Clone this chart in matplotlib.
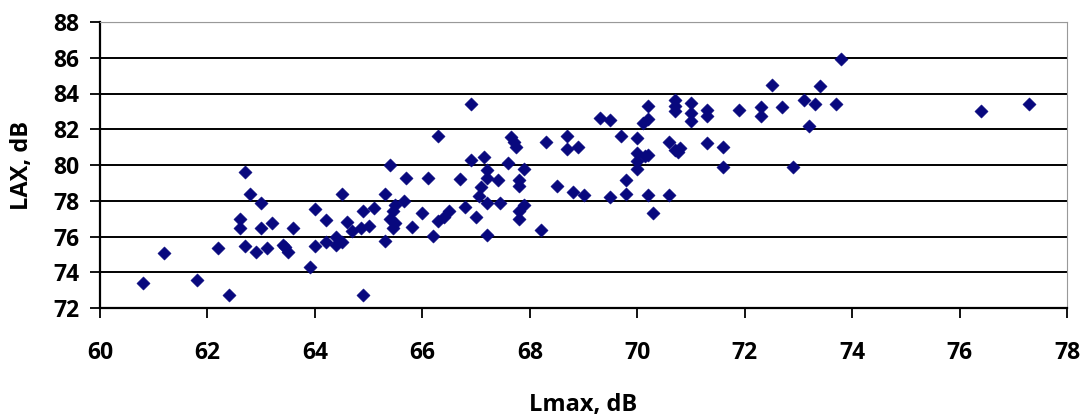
import matplotlib
matplotlib.use("Agg")
import matplotlib.pyplot as plt

lmax = [60.8, 61.2, 61.8, 62.2, 62.4, 62.6, 62.6, 62.7, 62.7, 62.8, 62.9, 63.0, 63.0, 63.1, 63.2,
        63.4, 63.45, 63.5, 63.6, 63.9, 64.0, 64.0, 64.2, 64.2, 64.4, 64.4, 64.5, 64.5, 64.6, 64.7,
        64.85, 64.9, 64.9, 65.0, 65.1, 65.3, 65.3, 65.4, 65.45, 65.4, 65.5, 65.5, 65.45, 65.65, 65.7,
        65.8, 66.0, 66.1, 66.2, 66.3, 66.3, 66.4, 66.5, 66.7, 66.8, 66.9, 66.9, 67.0, 67.05, 67.1,
        67.15, 67.2, 67.2, 67.2, 67.2, 67.4, 67.45, 67.6, 67.65, 67.7, 67.75, 67.8, 67.8, 67.8, 67.8,
        67.9, 67.9, 68.2, 68.3, 68.5, 68.7, 68.7, 68.8, 68.9, 69.0, 69.3, 69.5, 69.5, 69.7, 69.8,
        69.8, 70.0, 70.0, 70.0, 70.0, 70.15, 70.2, 70.2, 70.1, 70.2, 70.2, 70.3, 70.6, 70.6, 70.7,
        70.7, 70.7, 70.7, 70.8, 70.75, 71.0, 71.0, 71.0, 71.3, 71.3, 71.3, 71.6, 71.6, 71.9, 72.3,
        72.3, 72.5, 72.7, 72.9, 73.1, 73.2, 73.3, 73.4, 73.7, 73.8, 76.4, 77.3]
lax = [73.4, 75.1, 73.55, 75.35, 72.75, 77.0, 76.5, 79.6, 75.45, 78.35, 75.15, 77.85, 76.45, 75.35, 76.75,
       75.55, 75.4, 75.15, 76.45, 74.3, 77.55, 75.45, 76.95, 75.7, 76.0, 75.5, 75.7, 78.35, 76.8, 76.3,
       76.45, 77.45, 72.75, 76.6, 77.6, 78.4, 75.75, 80.0, 77.4, 77.0, 77.75, 76.75, 76.45, 78.0, 79.3,
       76.55, 77.3, 79.3, 76.05, 81.6, 76.85, 77.1, 77.4, 79.2, 77.65, 83.4, 80.3, 77.1, 78.25, 78.75,
       80.45, 79.7, 79.3, 77.9, 76.1, 79.15, 77.85, 80.1, 81.55, 81.3, 81.0, 79.15, 78.8, 77.4, 77.0,
       79.8, 77.75, 76.35, 81.3, 78.8, 81.6, 80.9, 78.5, 81.0, 78.3, 82.65, 82.5, 78.2, 81.6, 79.15,
       78.4, 81.5, 80.65, 80.2, 79.8, 80.5, 83.3, 82.6, 82.35, 80.55, 78.3, 77.3, 81.3, 78.3, 83.65,
       83.3, 83.0, 80.85, 80.95, 80.7, 83.45, 82.9, 82.45, 83.1, 82.75, 81.25, 81.0, 79.9, 83.05, 83.25,
       82.75, 84.5, 83.25, 79.9, 83.65, 82.2, 83.4, 84.4, 83.4, 85.95, 83.0, 83.4]

x_ticks = [60, 62, 64, 66, 68, 70, 72, 74, 76, 78]
y_ticks = [72, 74, 76, 78, 80, 82, 84, 86, 88]
x_label = "Lmax, dB"
y_label = "LAX, dB"

plt.rcParams['font.family'] = ['Open Sans', 'DejaVu Sans']

fig = plt.figure(figsize=(10.86, 4.16), dpi=100)
ax = fig.add_axes([100/1086, 1 - 308/416, (1067-100)/1086, (308-22)/416])

ax.set_xlim(60, 78)
ax.set_ylim(72, 88)
ax.set_xticks(x_ticks)
ax.set_yticks(y_ticks)

ax.yaxis.grid(True, color='black', linewidth=1.4)
ax.set_axisbelow(True)
gl = ax.yaxis.get_gridlines()
gl[-1].set_color('#999999')
gl[-1].set_linewidth(0.8)

ax.scatter(lmax, lax, marker='D', s=46, color='#08087e', edgecolors='#08087e', linewidths=0.3, zorder=3, clip_on=False)

for side in ['left', 'bottom']:
    ax.spines[side].set_color('black')
    ax.spines[side].set_linewidth(1.6)
for side in ['top', 'right']:
    ax.spines[side].set_color('#999999')
    ax.spines[side].set_linewidth(0.8)

ax.tick_params(axis='y', direction='out', length=7, width=1.3, pad=8, labelsize=16.5)
ax.tick_params(axis='x', direction='out', length=7, width=1.3, pad=17, labelsize=16.5)
for lbl in ax.get_xticklabels() + ax.get_yticklabels():
    lbl.set_fontweight('bold')

ax.set_xlabel(x_label, fontsize=17, fontweight='bold')
ax.set_ylabel(y_label, fontsize=17, fontweight='bold')
ax.xaxis.set_label_coords(0.5, -0.297)
ax.yaxis.set_label_coords(-0.068, 0.5)

fig.savefig("out.png", dpi=100)
